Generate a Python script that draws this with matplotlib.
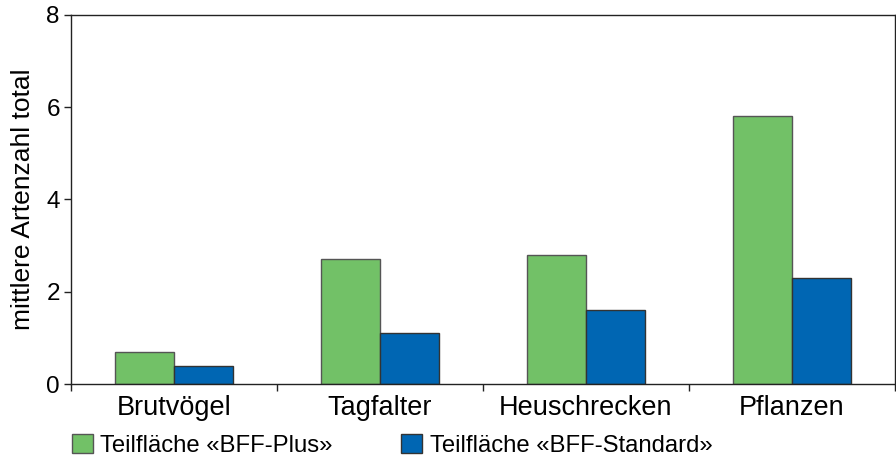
import matplotlib
matplotlib.use("Agg")
import matplotlib.pyplot as plt
import numpy as np

# Data
categories = ["Brutvögel", "Tagfalter", "Heuschrecken", "Pflanzen"]
bff_plus = [0.7, 2.7, 2.8, 5.8]
bff_standard = [0.4, 1.1, 1.6, 2.3]
series_labels = ["Teilfläche «BFF-Plus»", "Teilfläche «BFF-Standard»"]
y_ticks = [0, 2, 4, 6, 8]

green = "#72c167"
blue = "#0066b3"

plt.rcParams["font.family"] = ["Liberation Sans", "DejaVu Sans"]

fig = plt.figure(figsize=(8.96, 4.61), dpi=100)
ax = fig.add_axes([0.0792, 0.167, 0.9196, 0.801])

x = np.arange(len(categories))
w = 0.286
b1 = ax.bar(x - w / 2, bff_plus, width=w, color=green, edgecolor="#555555",
            linewidth=1.0, label=series_labels[0])
b2 = ax.bar(x + w / 2, bff_standard, width=w, color=blue, edgecolor="#333333",
            linewidth=1.0, label=series_labels[1])

ax.set_xlim(-0.5, len(categories) - 0.5)
ax.set_ylim(0, 8)
ax.set_yticks(y_ticks)
ax.set_xticks(x)
ax.set_xticklabels(categories, fontsize=19.5)
ax.tick_params(axis="x", which="major", length=0, pad=8)
ax.set_xticks(np.arange(len(categories) + 1) - 0.5, minor=True)
ax.tick_params(axis="x", which="minor", length=5, width=1, color="#222222")
ax.tick_params(axis="y", labelsize=17.5, length=5, width=1, color="#222222", pad=3)
ax.set_ylabel("mittlere Artenzahl total", fontsize=19, labelpad=8)

for s in ax.spines.values():
    s.set_color("#222222")
    s.set_linewidth(1.0)

fig.legend(handles=[b1, b2], labels=series_labels, loc="lower left",
           bbox_to_anchor=(0.064, -0.022), ncol=2, frameon=False, fontsize=17.2,
           handlelength=0.9, handleheight=0.9, handletextpad=0.3,
           columnspacing=2.85, borderaxespad=0.2)

fig.savefig("out.png", dpi=100)
